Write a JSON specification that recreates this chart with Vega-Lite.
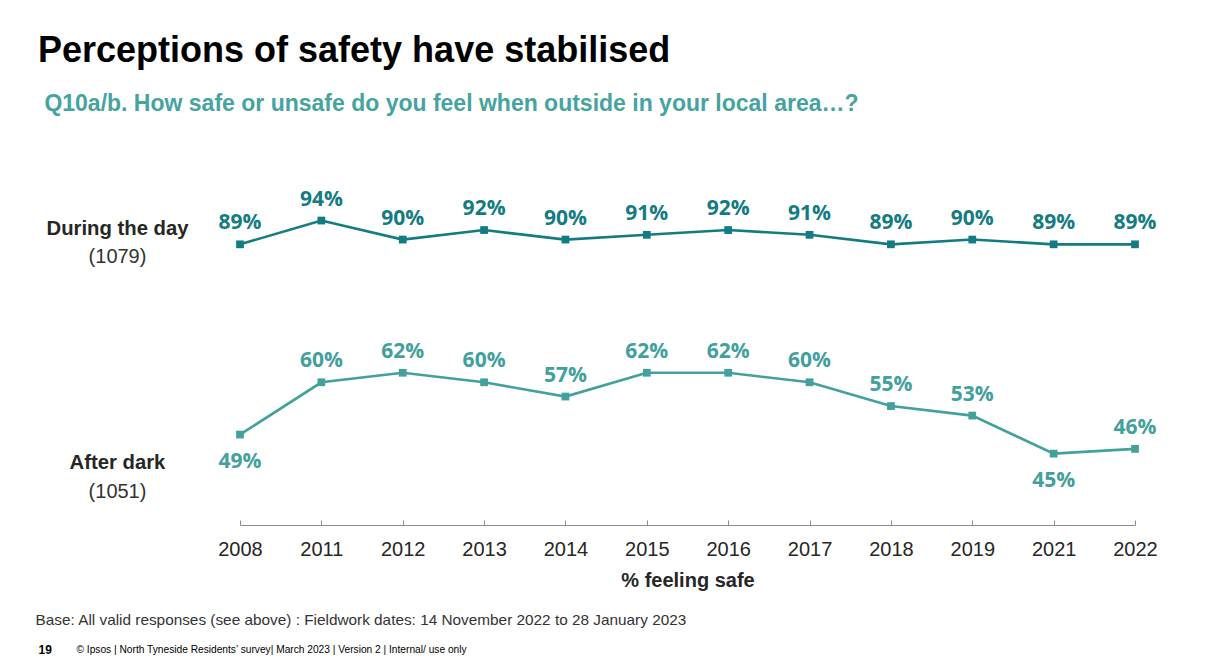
{
  "$schema": "https://vega.github.io/schema/vega-lite/v6.json",
  "autosize": {"type": "none"},
  "width": 895,
  "height": 333,
  "padding": {"left": 240, "top": 192, "right": 72, "bottom": 136},
  "background": "#ffffff",
  "config": {"view": {"stroke": null}},
  "title": {
    "text": "Perceptions of safety have stabilised",
    "subtitle": "\u200b\u00a0Q10a/b. How safe or unsafe do you feel when outside in your local area…?",
    "anchor": "start",
    "frame": "group",
    "dx": -202,
    "offset": 72,
    "font": "Liberation Sans",
    "fontSize": 36,
    "fontWeight": "bold",
    "color": "#000000",
    "subtitleFont": "Liberation Sans",
    "subtitleFontSize": 23,
    "subtitleFontWeight": "bold",
    "subtitleColor": "#45A3A0",
    "subtitlePadding": 23
  },
  "data": {
    "values": [
      {"year": "2008", "series": "During the day", "value": 89, "label": "89%"},
      {"year": "2011", "series": "During the day", "value": 94, "label": "94%"},
      {"year": "2012", "series": "During the day", "value": 90, "label": "90%"},
      {"year": "2013", "series": "During the day", "value": 92, "label": "92%"},
      {"year": "2014", "series": "During the day", "value": 90, "label": "90%"},
      {"year": "2015", "series": "During the day", "value": 91, "label": "91%"},
      {"year": "2016", "series": "During the day", "value": 92, "label": "92%"},
      {"year": "2017", "series": "During the day", "value": 91, "label": "91%"},
      {"year": "2018", "series": "During the day", "value": 89, "label": "89%"},
      {"year": "2019", "series": "During the day", "value": 90, "label": "90%"},
      {"year": "2021", "series": "During the day", "value": 89, "label": "89%"},
      {"year": "2022", "series": "During the day", "value": 89, "label": "89%"},
      {"year": "2008", "series": "After dark", "value": 49, "label": "49%"},
      {"year": "2011", "series": "After dark", "value": 60, "label": "60%"},
      {"year": "2012", "series": "After dark", "value": 62, "label": "62%"},
      {"year": "2013", "series": "After dark", "value": 60, "label": "60%"},
      {"year": "2014", "series": "After dark", "value": 57, "label": "57%"},
      {"year": "2015", "series": "After dark", "value": 62, "label": "62%"},
      {"year": "2016", "series": "After dark", "value": 62, "label": "62%"},
      {"year": "2017", "series": "After dark", "value": 60, "label": "60%"},
      {"year": "2018", "series": "After dark", "value": 55, "label": "55%"},
      {"year": "2019", "series": "After dark", "value": 53, "label": "53%"},
      {"year": "2021", "series": "After dark", "value": 45, "label": "45%"},
      {"year": "2022", "series": "After dark", "value": 46, "label": "46%"}
    ]
  },
  "encoding": {
    "x": {
      "field": "year",
      "type": "ordinal",
      "sort": null,
      "scale": {"type": "point", "padding": 0}
    },
    "y": {
      "field": "value",
      "type": "quantitative",
      "scale": {"domain": [30, 100], "nice": false, "zero": false}
    },
    "color": {
      "field": "series",
      "type": "nominal",
      "scale": {"domain": ["During the day", "After dark"], "range": ["#137B82", "#42A09D"]},
      "legend": null
    }
  },
  "layer": [
    {
      "mark": {"type": "line", "strokeWidth": 2.6},
      "encoding": {
        "x": {
          "field": "year", "type": "ordinal", "sort": null,
          "scale": {"type": "point", "padding": 0},
          "axis": {
            "orient": "bottom",
            "labelAngle": 0,
            "labelFont": "Liberation Sans",
            "labelFontSize": 20,
            "labelColor": "#262626",
            "labelPadding": 19,
            "labelBaseline": "top",
            "domainColor": "#8c8c8c",
            "domainWidth": 1,
            "tickColor": "#8c8c8c",
            "tickSize": -5,
            "grid": false,
            "title": "% feeling safe",
            "titleFont": "Liberation Sans",
            "titleFontSize": 20,
            "titleFontWeight": "bold",
            "titleColor": "#262626",
            "titleY": 55,
            "titleBaseline": "middle"
          }
        },
        "y": {
          "field": "value", "type": "quantitative",
          "scale": {"domain": [30, 100], "nice": false, "zero": false},
          "axis": {
            "orient": "left",
            "values": [92.4, 43.2],
            "labelExpr": "datum.value > 60 ? 'During the day' : 'After dark'",
            "labelAlign": "center",
            "labelBaseline": "middle",
            "labelPadding": 123,
            "labelFont": "Liberation Sans",
            "labelFontSize": 20.3,
            "labelFontWeight": "bold",
            "labelColor": "#262626",
            "ticks": false,
            "domain": false,
            "grid": false,
            "title": null
          }
        }
      }
    },
    {
      "mark": {"type": "point", "shape": "square", "filled": true, "size": 60, "opacity": 1},
      "encoding": {
        "x": {
          "field": "year", "type": "ordinal", "sort": null,
          "scale": {"type": "point", "padding": 0},
          "axis": {
            "orient": "bottom",
            "labels": false,
            "ticks": false,
            "domain": false,
            "grid": false,
            "title": "Base: All valid responses (see above) : Fieldwork dates: 14 November 2022 to 28 January 2023",
            "titleX": -205,
            "titleY": 94,
            "titleAlign": "left",
            "titleAnchor": "start",
            "titleBaseline": "middle",
            "titleFont": "Liberation Sans",
            "titleFontSize": 15.35,
            "titleFontWeight": "normal",
            "titleColor": "#333333"
          }
        },
        "y": {
          "field": "value", "type": "quantitative",
          "scale": {"domain": [30, 100], "nice": false, "zero": false},
          "axis": {
            "orient": "left",
            "values": [86.5, 37.1],
            "labelExpr": "datum.value > 60 ? '(1079)' : '(1051)'",
            "labelAlign": "center",
            "labelBaseline": "middle",
            "labelPadding": 123,
            "labelFont": "Liberation Sans",
            "labelFontSize": 20,
            "labelFontWeight": "normal",
            "labelColor": "#333333",
            "ticks": false,
            "domain": false,
            "grid": false,
            "title": null
          }
        }
      }
    },
    {
      "transform": [{"filter": "!(datum.series === 'After dark' && (datum.year === '2008' || datum.year === '2021'))"}],
      "mark": {"type": "text", "font": "Open Sans", "fontSize": 21, "fontWeight": "bold", "baseline": "middle", "dy": -21},
      "encoding": {
        "text": {"field": "label"},
        "x": {
          "field": "year", "type": "ordinal", "sort": null,
          "scale": {"type": "point", "padding": 0},
          "axis": {
            "orient": "bottom",
            "labels": false,
            "ticks": false,
            "domain": false,
            "grid": false,
            "title": "19",
            "titleX": -202,
            "titleY": 124,
            "titleAlign": "left",
            "titleAnchor": "start",
            "titleBaseline": "middle",
            "titleFont": "Liberation Sans",
            "titleFontSize": 12,
            "titleFontWeight": "bold",
            "titleColor": "#000000"
          }
        },
        "y": {
          "field": "value", "type": "quantitative",
          "scale": {"domain": [30, 100], "nice": false, "zero": false},
          "axis": null
        }
      }
    },
    {
      "transform": [{"filter": "datum.series === 'After dark' && (datum.year === '2008' || datum.year === '2021')"}],
      "mark": {"type": "text", "font": "Open Sans", "fontSize": 21, "fontWeight": "bold", "baseline": "middle", "dy": 27},
      "encoding": {
        "text": {"field": "label"},
        "x": {
          "field": "year", "type": "ordinal", "sort": null,
          "scale": {"type": "point", "padding": 0},
          "axis": {
            "orient": "bottom",
            "labels": false,
            "ticks": false,
            "domain": false,
            "grid": false,
            "title": "© Ipsos | North Tyneside Residents’ survey| March 2023 | Version 2 | Internal/ use only",
            "titleX": -164,
            "titleY": 124,
            "titleAlign": "left",
            "titleAnchor": "start",
            "titleBaseline": "middle",
            "titleFont": "Liberation Sans",
            "titleFontSize": 10.2,
            "titleFontWeight": "normal",
            "titleColor": "#000000"
          }
        },
        "y": {
          "field": "value", "type": "quantitative",
          "scale": {"domain": [30, 100], "nice": false, "zero": false},
          "axis": null
        }
      }
    }
  ],
  "resolve": {"axis": {"x": "independent", "y": "independent"}}
}
